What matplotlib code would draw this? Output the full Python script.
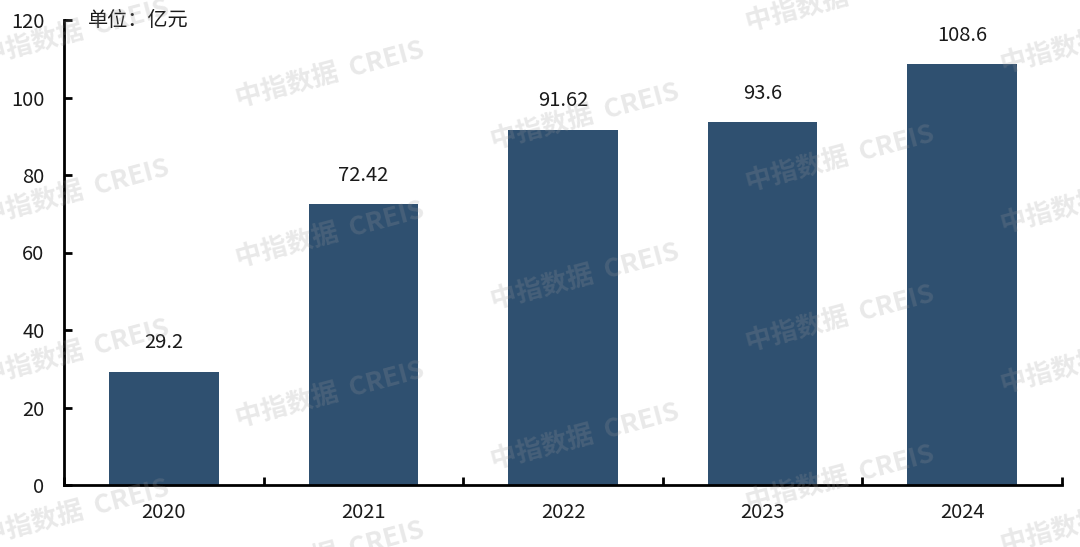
import matplotlib
matplotlib.use("Agg")
import matplotlib.pyplot as plt
from matplotlib.ticker import FixedLocator

plt.rcParams['font.family'] = ['Noto Sans CJK SC', 'DejaVu Sans']

years = ["2020", "2021", "2022", "2023", "2024"]
values = [29.2, 72.42, 91.62, 93.6, 108.6]
labels = ["29.2", "72.42", "91.62", "93.6", "108.6"]
yticks = [0, 20, 40, 60, 80, 100, 120]

fig = plt.figure(figsize=(10.8, 5.47), dpi=100)
ax = fig.add_axes([64/1080, 1-485/547, (1062-64)/1080, (485-20)/547])

x = list(range(len(years)))
bars = ax.bar(x, values, width=0.55, color="#2F5070", zorder=2)
for xi, v, lab in zip(x, values, labels):
    ax.text(xi, v + 4.8, lab, ha="center", va="bottom", fontsize=14.5, color="#1a1a1a")

ax.set_xlim(-0.5, len(years) - 0.5)
ax.set_ylim(0, 120)
ax.set_yticks(yticks)
ax.set_yticklabels([str(t) for t in yticks], fontsize=14.5, color="#1a1a1a")
ax.set_xticks(x)
ax.set_xticklabels(years, fontsize=14.5, color="#1a1a1a")
ax.tick_params(axis="x", length=0, pad=12)
ax.xaxis.set_minor_locator(FixedLocator([i - 0.5 for i in range(len(years) + 1)]))
ax.tick_params(axis="x", which="minor", direction="in", length=6, width=2)
ax.tick_params(axis="y", direction="in", length=6, width=2, pad=14)
for s in ["top", "right"]:
    ax.spines[s].set_visible(False)
for s in ["left", "bottom"]:
    ax.spines[s].set_linewidth(2)
    ax.spines[s].set_color("black")

fig.text(88/1080, 1-20/547, "单位：亿元", fontsize=14.5, ha="left", va="center", color="#1a1a1a")

# watermarks
for i in range(-2, 5):
    for j in range(-2, 5):
        cx = 330 + 255 * i
        cy = 75 + 42 * i + 160 * j
        if -60 < cx < 1160 and -40 < cy < 590:
            fig.text(cx / 1080, 1 - cy / 547, "中指数据  CREIS", fontsize=19, fontweight="bold",
                     color="#9a9a9a", alpha=0.22, rotation=15, ha="center", va="center", zorder=10)

fig.savefig("out.png", dpi=100)
